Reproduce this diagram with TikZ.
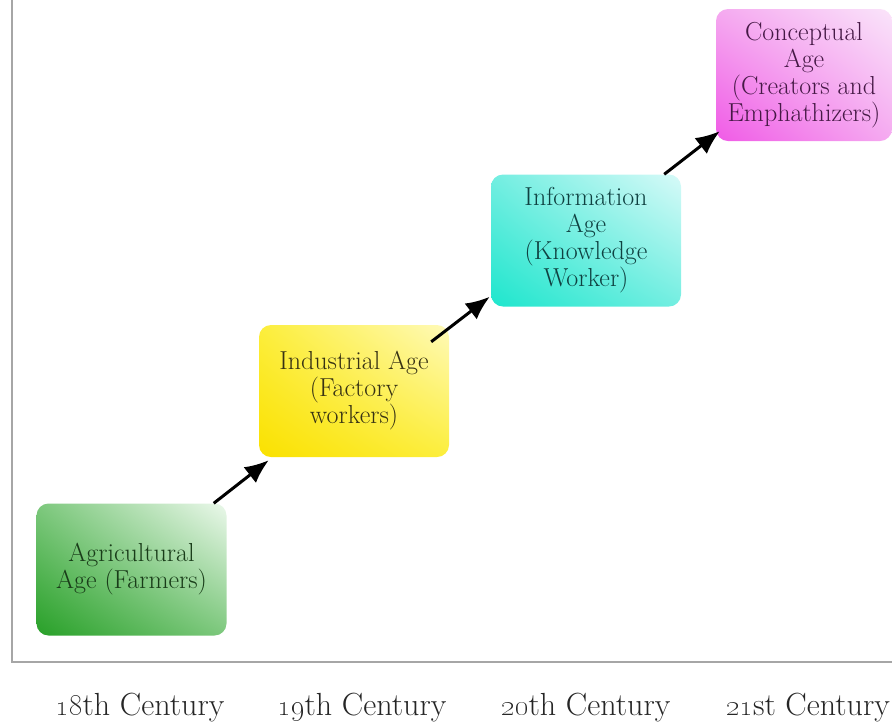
\documentclass[tikz,border=0pt]{standalone}
\usetikzlibrary{arrows.meta,shadings}

\definecolor{agridark}{RGB}{40,160,40}
\definecolor{agrimid}{RGB}{125,200,125}
\definecolor{agrilight}{RGB}{235,248,235}
\definecolor{agritext}{RGB}{25,60,25}
\definecolor{indusdark}{RGB}{250,225,0}
\definecolor{indusmid}{RGB}{252,238,60}
\definecolor{induslight}{RGB}{255,250,185}
\definecolor{industext}{RGB}{55,50,20}
\definecolor{infodark}{RGB}{30,230,205}
\definecolor{infomid}{RGB}{115,238,225}
\definecolor{infolight}{RGB}{215,250,248}
\definecolor{infotext}{RGB}{15,65,65}
\definecolor{conceptdark}{RGB}{240,90,230}
\definecolor{conceptmid}{RGB}{245,170,240}
\definecolor{conceptlight}{RGB}{250,228,250}
\definecolor{concepttext}{RGB}{70,25,70}

\begin{document}
\begin{tikzpicture}[x=1pt, y=-1pt,
  age/.style={rounded corners=12pt, align=center, inner sep=0pt,
    minimum width=190pt, minimum height=132pt,
    font=\fontsize{26}{27}\selectfont},
  arr/.style={line width=3pt, -{Latex[length=24pt,width=20pt]}},
  century/.style={font=\fontsize{32}{36}\selectfont, text=black!85}]

\useasboundingbox (0,0) rectangle (892,724);

%frame
\draw[black!35, line width=2pt] (12,0) -- (12,662) -- (892,662);

%ages
\node[age, text=agritext,
  lower left=agridark, upper left=agrimid,
  lower right=agrimid, upper right=agrilight] (agri) at (131.5,569.5)
  {Agricultural\\Age (Farmers)};
\node[age, text=industext,
  lower left=indusdark, upper left=indusmid,
  lower right=indusmid, upper right=induslight] (indus) at (354,391)
  {Industrial Age\\(Factory\\workers)};
\node[age, text=infotext,
  lower left=infodark, upper left=infomid,
  lower right=infomid, upper right=infolight] (info) at (586,240.5)
  {Information\\Age\\(Knowledge\\Worker)};
\node[age, minimum width=176pt, text=concepttext,
  lower left=conceptdark, upper left=conceptmid,
  lower right=conceptmid, upper right=conceptlight] (concept) at (804,75)
  {Conceptual\\Age\\(Creators and\\Emphathizers)};

%arrows
\draw[arr] ([xshift=-13pt]agri.north east) -- ([xshift=10pt,yshift=-3pt]indus.south west);
\draw[arr] ([xshift=-18pt,yshift=-17pt]indus.north east) -- ([xshift=-1pt,yshift=10pt]info.south west);
\draw[arr] ([xshift=-17pt]info.north east) -- ([xshift=4pt,yshift=10pt]concept.south west);

%labels
\foreach \x/\n/\s in {140/18/th, 362/19/th, 586/20/th, 808/21/st}
\node[century] (c\n) at (\x,708) {\oldstylenums{\n}\s\ Century};

\end{tikzpicture}
\end{document}
